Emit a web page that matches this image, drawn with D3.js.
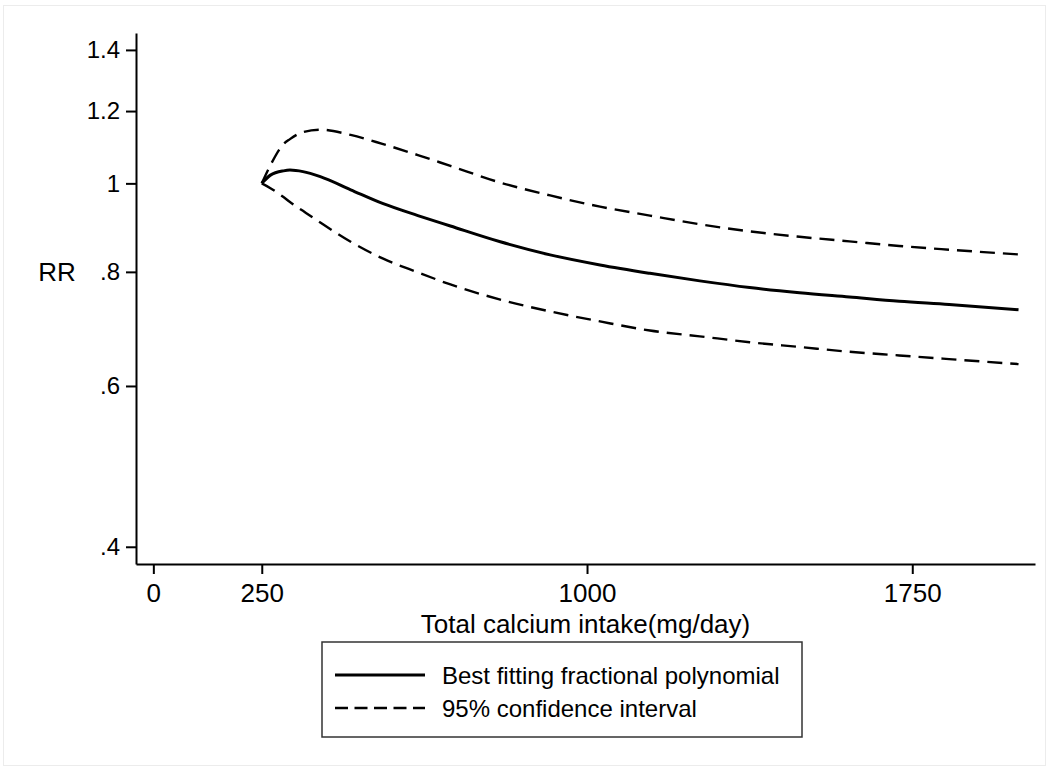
<!DOCTYPE html>
<html>
<head>
<meta charset="utf-8">
<script src="https://cdn.jsdelivr.net/npm/d3@7"></script>
<style>
  body { margin: 0; background: #fff; }
  svg text { font-family: "Liberation Sans", Arial, sans-serif; fill: #000; }
</style>
</head>
<body>
<div id="chart"></div>
<script>
// Data (RR on log scale)
const intake = [250, 270, 300, 315, 345, 385, 455, 530, 610, 685, 800, 915, 1030, 1145, 1260, 1375, 1490, 1605, 1720, 1835, 1995];
const rrFit = [1.000, 1.021, 1.032, 1.034, 1.030, 1.017, 0.984, 0.950, 0.922, 0.898, 0.863, 0.835, 0.814, 0.797, 0.782, 0.769, 0.759, 0.751, 0.743, 0.737, 0.727];
const rrUpper = [1.000, 1.047, 1.104, 1.118, 1.138, 1.145, 1.130, 1.104, 1.074, 1.045, 1.002, 0.970, 0.943, 0.922, 0.902, 0.886, 0.874, 0.864, 0.854, 0.846, 0.836];
const rrLower = [1.000, 0.988, 0.966, 0.954, 0.933, 0.906, 0.863, 0.827, 0.799, 0.775, 0.746, 0.724, 0.706, 0.690, 0.680, 0.670, 0.662, 0.654, 0.648, 0.642, 0.634];

const xTicks = [0, 250, 1000, 1750];
const yTicks = [0.4, 0.6, 0.8, 1, 1.2, 1.4];
const yTickLabels = ['.4', '.6', '.8', '1', '1.2', '1.4'];
const legendLabels = ['Best fitting fractional polynomial', '95% confidence interval'];

const W = 1049, H = 770;
const svg = d3.select('#chart').append('svg')
  .attr('width', W).attr('height', H);

// faint outer frame
svg.append('rect')
  .attr('x', 3.5).attr('y', 5.5)
  .attr('width', W - 7).attr('height', H - 10)
  .attr('fill', '#fff').attr('stroke', '#ececec').attr('stroke-width', 1);

// Scales
const x = d3.scaleLinear().domain([-40, 2033]).range([136, 1035]);
const y = d3.scaleLog().domain([0.383, 1.461]).range([564, 33]);

// Axes
const yAxis = svg.append('g')
  .attr('transform', 'translate(136,0)')
  .call(d3.axisLeft(y).tickValues(yTicks).tickSize(10).tickSizeOuter(0)
    .tickPadding(6)
    .tickFormat((d, i) => yTickLabels[i]));

const xAxis = svg.append('g')
  .attr('transform', 'translate(0,564)')
  .call(d3.axisBottom(x).tickValues(xTicks).tickSize(10).tickSizeOuter(0)
    .tickPadding(10)
    .tickFormat(d3.format('d')));

svg.selectAll('.domain, .tick line')
  .attr('stroke', '#000').attr('stroke-width', 2);
yAxis.selectAll('text').attr('font-size', 24);
xAxis.selectAll('text').attr('font-size', 26);

// Axis titles
svg.append('text')
  .attr('x', 57).attr('y', 281)
  .attr('text-anchor', 'middle')
  .attr('font-size', 26)
  .text('RR');

svg.append('text')
  .attr('x', (136 + 1035) / 2).attr('y', 633)
  .attr('text-anchor', 'middle')
  .attr('font-size', 26)
  .text('Total calcium intake(mg/day)');

// Lines
const line = vals => d3.line()
  .x((d, i) => x(intake[i]))
  .y(d => y(d))
  .curve(d3.curveMonotoneX)(vals);

svg.append('path')
  .attr('d', line(rrUpper))
  .attr('fill', 'none').attr('stroke', '#000')
  .attr('stroke-width', 2.4).attr('stroke-dasharray', '15,8');

svg.append('path')
  .attr('d', line(rrLower))
  .attr('fill', 'none').attr('stroke', '#000')
  .attr('stroke-width', 2.4).attr('stroke-dasharray', '15,8');

svg.append('path')
  .attr('d', line(rrFit))
  .attr('fill', 'none').attr('stroke', '#000')
  .attr('stroke-width', 3);

// Legend
const legend = svg.append('g');
legend.append('rect')
  .attr('x', 322).attr('y', 642)
  .attr('width', 480).attr('height', 95)
  .attr('fill', '#fff').attr('stroke', '#333').attr('stroke-width', 1.5);

const legendRows = [
  { y: 675, dash: null, label: legendLabels[0], width: 3 },
  { y: 708, dash: '13,6.5', label: legendLabels[1], width: 2.4 }
];
legendRows.forEach(r => {
  legend.append('line')
    .attr('x1', 335).attr('x2', 425)
    .attr('y1', r.y).attr('y2', r.y)
    .attr('stroke', '#000').attr('stroke-width', r.width)
    .attr('stroke-dasharray', r.dash);
  legend.append('text')
    .attr('x', 442).attr('y', r.y + 9)
    .attr('font-size', 24)
    .text(r.label);
});
</script>
</body>
</html>
